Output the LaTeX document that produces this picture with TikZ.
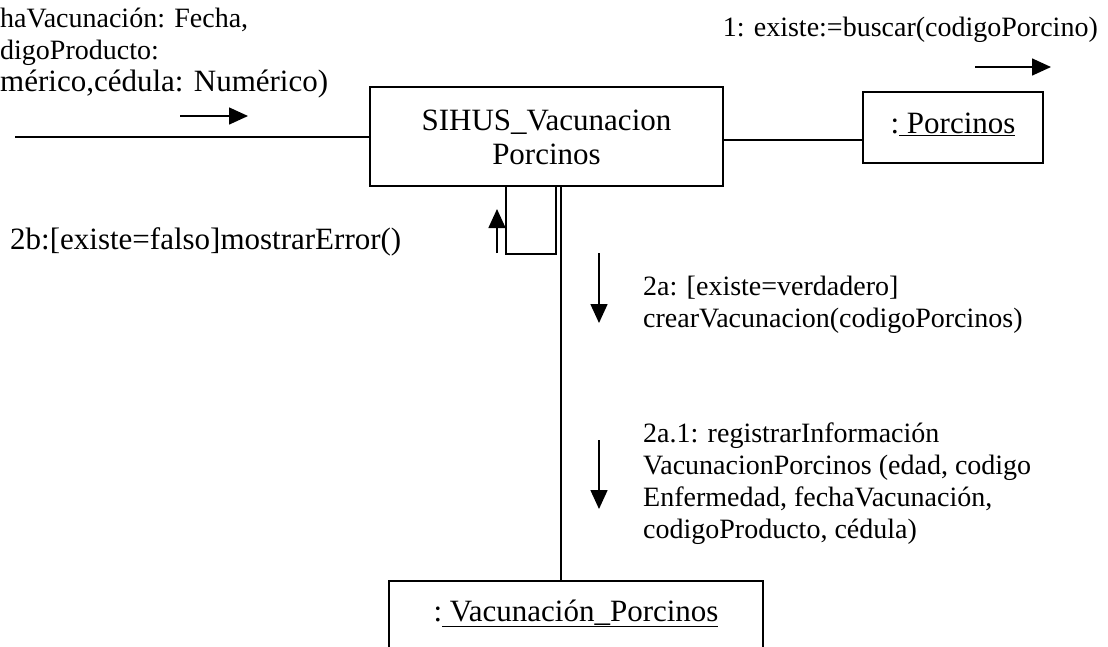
\documentclass[tikz,border=0pt]{standalone}
\usepackage{fontspec}
\setmainfont{Liberation Serif}
\usetikzlibrary{arrows.meta}
\begin{document}
\begin{tikzpicture}[x=1pt,y=-1pt,
  every node/.style={inner sep=0pt},
  small/.style={font=\fontsize{28}{32}\selectfont},
  big/.style={font=\fontsize{31}{34}\selectfont},
  obj/.style={draw, line width=1.6pt, rectangle, align=center, big, anchor=base},
  lbl/.style={align=left, anchor=base west, small},
  link/.style={line width=1.6pt},
  msg/.style={line width=1.6pt, -{Triangle[length=19pt,width=17pt]}}]
\useasboundingbox (0,0) rectangle (1108,646);
\clip (0,0) rectangle (1108,646);
% objects
\node[obj, minimum width=353pt, text height=77pt, text depth=22pt] (main) at (546.5,164) {SIHUS\_Vacunacion\\Porcinos};
\node[obj, minimum width=180pt, text height=41pt, text depth=30pt] (porc) at (953,133) {:\underline{\ Porcinos}};
\node[obj, minimum width=374pt, text height=40pt, text depth=60pt] (vac) at (576,621) {:\underline{\ Vacunación\_Porcinos}};
% labels
\node[lbl] (tl1) at (0,27) {haVacunación: Fecha,};
\node[lbl] (tl2) at (0,59) {digoProducto:};
\node[lbl, big] (tl3) at (0,91) {mérico,cédula: Numérico)};
\node[small, anchor=base east] (l1) at (1098,36) {1: existe:=buscar(codigoPorcino)};
\node[lbl, big] (l2b) at (10,249) {2b:[existe=falso]mostrarError()};
\node[lbl] (l2a) at (643,327) {2a: [existe=verdadero]\\crearVacunacion(codigoPorcinos)};
\node[lbl] (l2a1) at (643,538) {2a.1: registrarInformación\\VacunacionPorcinos (edad, codigo\\Enfermedad, fechaVacunación,\\codigoProducto, cédula)};
% coordinates
\coordinate (inL) at (15,137);
\coordinate (r) at (0,140);
\coordinate (v) at (561,0);
\coordinate (loopL) at (506,254);
\coordinate (loopR) at (556,254);
% links
\draw[link] (inL) -- (main.west |- inL);
\draw[link] (main.east |- r) -- (porc.west |- r);
\draw[link] (main.south -| v) -- (vac.north -| v);
\draw[link] (main.south -| loopL) |- (loopR) -- (main.south -| loopR);
% message arrows
\coordinate (a1s) at (180,116); \coordinate (a1e) at (248,116);
\coordinate (a2s) at (975,67);  \coordinate (a2e) at (1051,67);
\coordinate (a3s) at (497,253); \coordinate (a3e) at (497,209);
\coordinate (a4s) at (599,253); \coordinate (a4e) at (599,323);
\coordinate (a5s) at (599,440); \coordinate (a5e) at (599,509);
\draw[msg] (a1s) -- (a1e);
\draw[msg] (a2s) -- (a2e);
\draw[msg] (a3s) -- (a3e);
\draw[msg] (a4s) -- (a4e);
\draw[msg] (a5s) -- (a5e);
\end{tikzpicture}
\end{document}
